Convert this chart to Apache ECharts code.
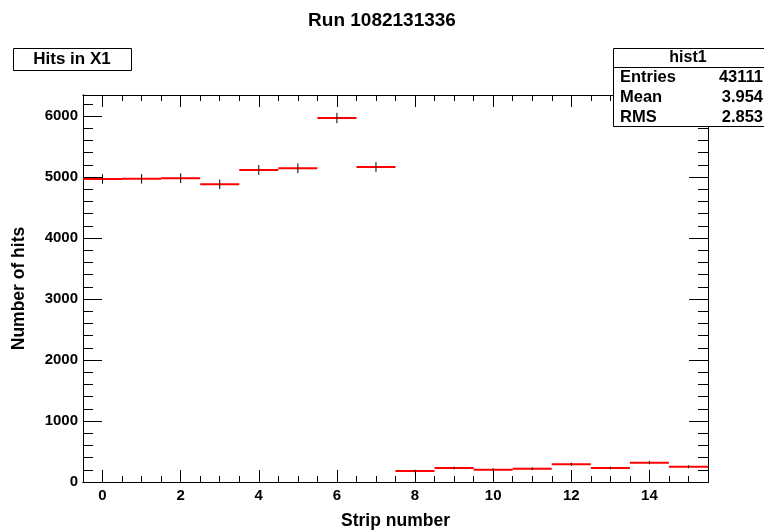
<!DOCTYPE html>
<html lang="en">
<head>
    <meta charset="UTF-8">
    <title>Run 1082131336</title>
    <script src="https://cdn.jsdelivr.net/npm/echarts@6/dist/echarts.min.js"></script>
    <style>
        html, body {
            margin: 0;
            padding: 0;
            background: #fff;
        }
        #chart {
            width: 764px;
            height: 532px;
        }
    </style>
</head>
<body>
<div id="chart"></div>
<script>
    // bin contents
    var strips = [0, 1, 2, 3, 4, 5, 6, 7, 8, 9, 10, 11, 12, 13, 14, 15];
    var hits = [4967, 4970, 4980, 4880, 5115, 5143, 5967, 5164, 180, 230, 202, 218, 290, 230, 317, 251];
    var errors = [70, 70, 71, 70, 72, 72, 77, 72, 13, 15, 14, 15, 17, 15, 18, 16];

    var xMajor = [0, 2, 4, 6, 8, 10, 12, 14];
    var xMinor = [];
    for (var i = -0.5; i <= 15.5; i += 0.5) xMinor.push(i);
    var yMajor = [0, 1000, 2000, 3000, 4000, 5000, 6000];
    var yMinor = [];
    for (var j = 0; j <= 6200; j += 200) yMinor.push(j);

    var statNames = ['Entries', 'Mean', 'RMS'];
    var statValues = ['43111', '3.954', '2.853'];

    var font = '"Liberation Sans", Arial, Helvetica, sans-serif';
    var lineCol = '#000';

    function plotRect() {
        return {left: 83, right: 56, top: 95, bottom: 50, containLabel: false, outerBoundsMode: 'none'};
    }

    function plain(v) {
        return String(v);
    }

    function xAx(g, pos, ticks, len, labels) {
        return {
            type: 'value', gridIndex: g, position: pos, min: -0.5, max: 15.5,
            axisLine: {show: true, onZero: false, lineStyle: {color: lineCol, width: 1}},
            axisTick: {show: true, inside: true, length: len, customValues: ticks, lineStyle: {color: lineCol}},
            axisLabel: labels ? {
                show: true, customValues: xMajor, margin: 6, formatter: plain,
                color: '#000', fontFamily: font, fontWeight: 'bold', fontSize: 15
            } : {show: false},
            splitLine: {show: false}
        };
    }

    function yAx(g, pos, ticks, len, labels) {
        return {
            type: 'value', gridIndex: g, position: pos, min: 0, max: 6344,
            axisLine: {show: true, onZero: false, lineStyle: {color: lineCol, width: 1}},
            axisTick: {show: true, inside: true, length: len, customValues: ticks, lineStyle: {color: lineCol}},
            axisLabel: labels ? {
                show: true, customValues: yMajor, margin: 5, formatter: plain,
                color: '#000', fontFamily: font, fontWeight: 'bold', fontSize: 15
            } : {show: false},
            splitLine: {show: false}
        };
    }

    // one grid per tick set, all on the same rectangle
    var grids = [plotRect(), plotRect(), plotRect(), plotRect()];
    var xs = [
        xAx(0, 'bottom', xMajor, 12, true),
        xAx(1, 'bottom', xMinor, 6, false),
        xAx(2, 'top', xMajor, 12, false),
        xAx(3, 'top', xMinor, 6, false)
    ];
    xs[0].name = 'Strip number';
    xs[0].nameLocation = 'middle';
    xs[0].nameGap = 30;
    xs[0].nameTextStyle = {color: '#000', fontFamily: font, fontWeight: 'bold', fontSize: 17.5};

    var ys = [
        yAx(0, 'left', yMajor, 19, true),
        yAx(1, 'left', yMinor, 10, false),
        yAx(2, 'right', yMajor, 19, false),
        yAx(3, 'right', yMinor, 10, false)
    ];
    ys[0].name = 'Number of hits';
    ys[0].nameLocation = 'middle';
    ys[0].nameGap = 55;
    ys[0].nameTextStyle = {color: '#000', fontFamily: font, fontWeight: 'bold', fontSize: 17.5};

    var points = strips.map(function (s, k) {
        return [s, hits[k], errors[k]];
    });

    var myChart = echarts.init(document.getElementById('chart'));
    var option = {
        animation: false,
        backgroundColor: '#fff',
        title: {
            text: 'Run 1082131336',
            left: 'center',
            top: 6,
            textStyle: {color: '#000', fontFamily: font, fontWeight: 'bold', fontSize: 19}
        },
        grid: grids,
        xAxis: xs,
        yAxis: ys,
        series: [{
            type: 'custom',
            xAxisIndex: 0,
            yAxisIndex: 0,
            clip: true,
            data: points,
            renderItem: function (params, api) {
                var x = api.value(0), y = api.value(1), e = api.value(2);
                var a = api.coord([x - 0.5, y]);
                var b = api.coord([x + 0.5, y]);
                var t = api.coord([x, y + e]);
                var d = api.coord([x, y - e]);
                return {
                    type: 'group',
                    children: [
                        {type: 'line', shape: {x1: a[0], y1: a[1], x2: b[0], y2: b[1]},
                            style: {stroke: '#ff0000', lineWidth: 2}},
                        {type: 'line', shape: {x1: t[0], y1: t[1] - 0.5, x2: d[0], y2: d[1] + 0.5},
                            style: {stroke: '#000', lineWidth: 1}}
                    ]
                };
            }
        }],
        graphic: [
            // title box of the histogram
            {type: 'rect', z: 100, shape: {x: 13.5, y: 48.5, width: 118, height: 22},
                style: {fill: '#fff', stroke: '#000', lineWidth: 1}},
            {type: 'text', z: 101, x: 72, y: 59.5,
                style: {text: 'Hits in X1', fill: '#000', font: 'bold 17px ' + font, align: 'center', verticalAlign: 'middle'}},
            // stats box
            {type: 'rect', z: 100, shape: {x: 613.5, y: 48.5, width: 160, height: 78},
                style: {fill: '#fff', stroke: '#000', lineWidth: 1}},
            {type: 'line', z: 101, shape: {x1: 613.5, y1: 67.5, x2: 764, y2: 67.5},
                style: {stroke: '#000', lineWidth: 1}},
            {type: 'text', z: 101, x: 688, y: 58,
                style: {text: 'hist1', fill: '#000', font: 'bold 16px ' + font, align: 'center', verticalAlign: 'middle'}}
        ]
    };

    statNames.forEach(function (n, k) {
        option.graphic.push({type: 'text', z: 101, x: 620, y: 77.5 + k * 20,
            style: {text: n, fill: '#000', font: 'bold 16.5px ' + font, align: 'left', verticalAlign: 'middle'}});
        option.graphic.push({type: 'text', z: 101, x: 763, y: 77.5 + k * 20,
            style: {text: statValues[k], fill: '#000', font: 'bold 16.5px ' + font, align: 'right', verticalAlign: 'middle'}});
    });

    myChart.setOption(option);
</script>
</body>
</html>
